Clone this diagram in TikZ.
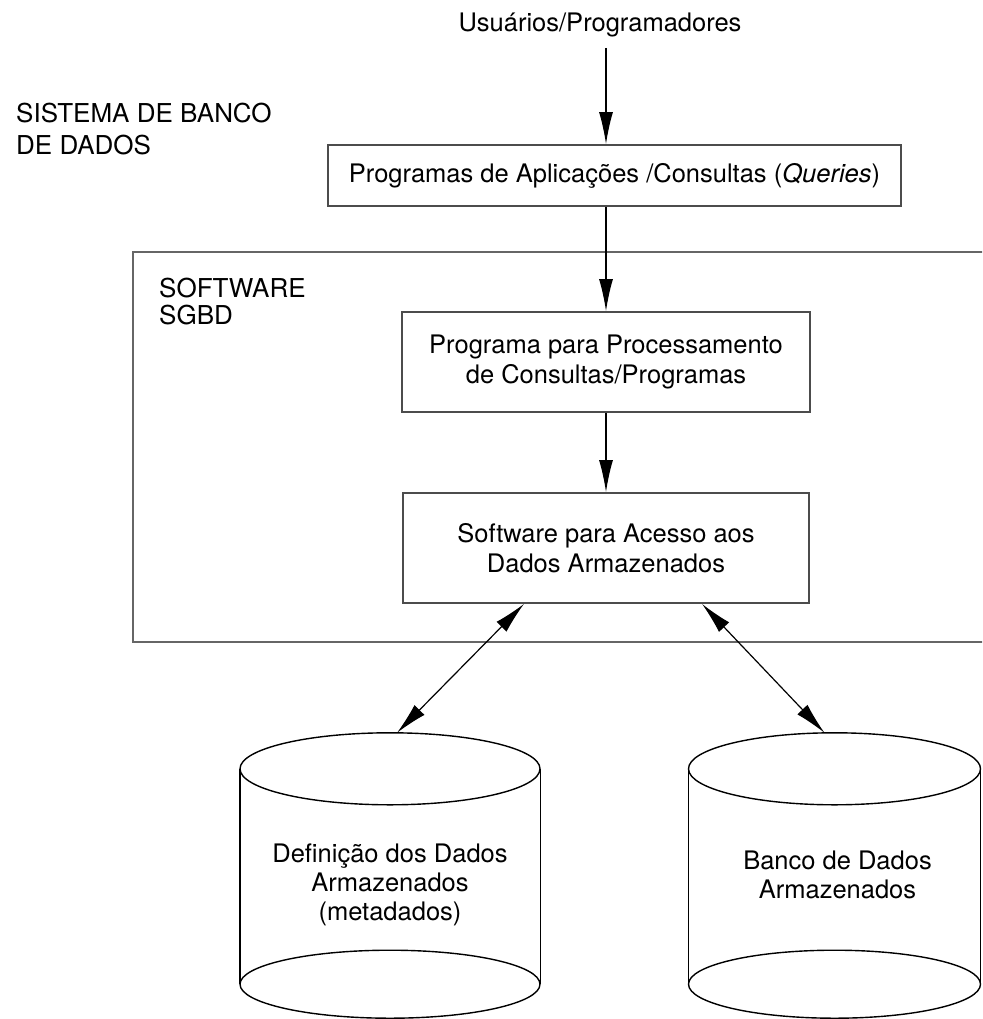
\documentclass[tikz,border=0pt]{standalone}
\usepackage{fontspec}
\setmainfont{TeX Gyre Heros}
\usetikzlibrary{arrows.meta}
\begin{document}
\begin{tikzpicture}[x=1pt,y=-1pt,
  txt/.style={font=\fontsize{25.5}{30}\selectfont, inner sep=0pt},
  boxnode/.style={draw=black!70, line width=1.8pt, align=center, font=\fontsize{25.5}{30}\selectfont, inner sep=0pt},
  container/.style={draw=black!60, line width=2pt, inner sep=0pt},
  arr/.style={draw=black, line width=1.2pt, -{Latex[length=32pt,width=14pt]}},
  darr/.style={draw=black, line width=1.2pt, {Latex[length=32pt,width=14pt]}-{Latex[length=32pt,width=14pt]}},
  cylline/.style={draw=black, line width=1.4pt},
]
\useasboundingbox (0,0) rectangle (982,1019);
\clip (0,0) rectangle (982,1019);
\fill[white] (0,0) rectangle (982,1019);

% free texts
\node[txt, anchor=base] (users) at (600,32) {Usuários/Programadores};
\node[txt, anchor=north west, align=left, font=\fontsize{26}{32}\selectfont] (sys) at (16,103) {SISTEMA DE BANCO\\DE DADOS};

% DBMS container
\node[container, minimum width=877pt, minimum height=390pt] (sgbd) at (571.5,447) {};
\node[txt, anchor=north west, align=left, font=\fontsize{26}{27}\selectfont] (soft) at (159,278) {SOFTWARE\\SGBD};

% boxes
\node[boxnode, minimum width=573pt, minimum height=61pt] (box1) at (614.5,175.5) {Programas de Aplicações /Consultas (\textit{Queries})};
\node[boxnode, minimum width=408pt, minimum height=100pt] (box2) at (606,362) {Programa para Processamento\\de Consultas/Programas};
\node[boxnode, minimum width=406pt, minimum height=110pt] (box3) at (606,548) {Software para Acesso aos\\Dados Armazenados};

% cylinders
\node[minimum width=300pt, minimum height=215pt, inner sep=0pt] (db1) at (390,876.5) {};
\node[minimum width=292pt, minimum height=215pt, inner sep=0pt] (db2) at (834.5,876.5) {};
\draw[cylline] (db1.north west) -- (db1.south west);
\draw[cylline] (db1.north east) -- (db1.south east);
\draw[cylline] (db1.north) ellipse [x radius=150pt, y radius=36pt];
\draw[cylline] (db1.south) ellipse [x radius=150pt, y radius=34pt];
\draw[cylline] (db2.north west) -- (db2.south west);
\draw[cylline] (db2.north east) -- (db2.south east);
\draw[cylline] (db2.north) ellipse [x radius=146pt, y radius=36pt];
\draw[cylline] (db2.south) ellipse [x radius=146pt, y radius=34pt];
\node[txt, align=center, font=\fontsize{25.5}{29}\selectfont] (d1) at ([yshift=-8pt]db1.center) {Definição dos Dados\\Armazenados\\(metadados)};
\node[txt, align=center, font=\fontsize{25.5}{29}\selectfont] (d2) at ([xshift=3pt,yshift=2pt]db2.center) {Banco de Dados\\Armazenados};

% connectors
\draw[arr, shorten <=10pt] (users.south -| box2.north) -- (box1.north -| box2.north);
\draw[arr] (box1.south -| box2.north) -- (box2.north);
\draw[arr] (box2.south) -- (box3.north);
\draw[darr] ([xshift=-82pt]box3.south) -- ([xshift=7pt,yshift=36pt]db1.north);
\draw[darr] ([xshift=96pt]box3.south) -- ([xshift=-10pt,yshift=36pt]db2.north);
\end{tikzpicture}
\end{document}
